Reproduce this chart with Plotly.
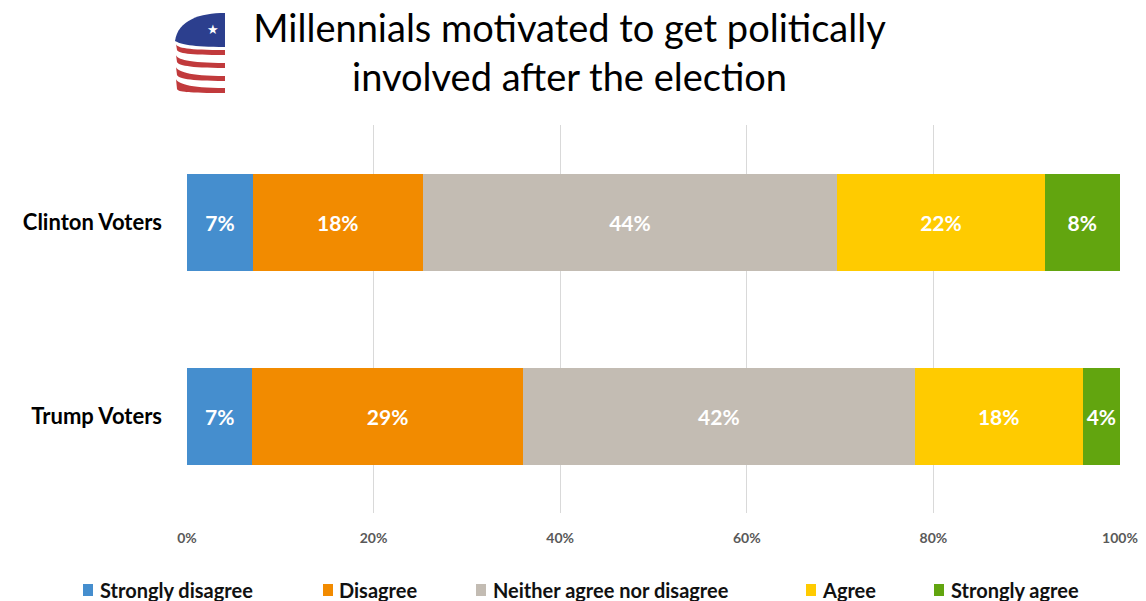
import plotly.graph_objects as go

# Survey responses by voter group (percent of respondents)
groups = ["Clinton Voters", "Trump Voters"]
responses = ["Strongly disagree", "Disagree", "Neither agree nor disagree", "Agree", "Strongly agree"]
strongly_disagree = [7, 7]
disagree = [18, 29]
neither = [44, 42]
agree = [22, 18]
strongly_agree = [8, 4]
tick_values = [0, 20, 40, 60, 80, 100]
tick_labels = ["0%", "20%", "40%", "60%", "80%", "100%"]

series = [strongly_disagree, disagree, neither, agree, strongly_agree]
colors = ["#458ECE", "#F28B00", "#C3BCB3", "#FFCB00", "#62A50F"]

W, H = 1146, 601
ML, MR, MT, MB = 187, 26, 125, 88
PW, PH = W - ML - MR, H - MT - MB


def px(x):
    return (x - ML) / PW


def py(y):
    return (H - MB - y) / PH


fig = go.Figure()
for name, vals, col in zip(responses, series, colors):
    fig.add_trace(go.Bar(
        y=groups, x=vals, name=name, orientation="h",
        marker=dict(color=col, line=dict(width=0)),
        text=[f"{v}%" for v in vals],
        textposition="inside", insidetextanchor="middle",
        textangle=0, constraintext="none",
        textfont=dict(family="Lato", size=21, color="white", weight="bold"),
        showlegend=False,
    ))

# Legend drawn as swatches + labels along the bottom
legend_swatch_x = [83, 323, 476, 806, 934]
legend_text_x = [98, 337, 491, 820, 949]
legend_y = 590
shapes = []
annotations = []
for name, col, sx, tx in zip(responses, colors, legend_swatch_x, legend_text_x):
    shapes.append(dict(type="rect", xref="paper", yref="paper",
                       x0=px(sx), x1=px(sx + 10), y0=py(legend_y + 6), y1=py(legend_y - 6),
                       fillcolor=col, line=dict(width=0)))
    annotations.append(dict(xref="paper", yref="paper", x=px(tx), y=py(legend_y),
                            xanchor="left", yanchor="middle", showarrow=False, text=name,
                            font=dict(family="Lato", size=20, color="#111111", weight="bold")))


# Flag-style logo beside the title
def path(points):
    out = []
    for cmd, *pts in points:
        coords = " ".join(f"{px(a):.5f},{py(b):.5f}" for a, b in pts)
        out.append(f"{cmd}{coords}")
    return " ".join(out) + " Z"


navy, red = "#2C3F8E", "#C13A3C"
shapes.append(dict(type="path", xref="paper", yref="paper", fillcolor=navy, line=dict(width=0),
                   path=path([("M", (225, 13)), ("C", (200, 13), (178, 20), (175, 41)),
                              ("C", (180, 44), (192, 47), (225, 47)), ("L", (225, 13))])))
# stripes: (left top, left bottom, right top, right bottom)
for lt, lb, rt, rb in [(44, 50, 50, 55), (55, 62, 63, 68), (67, 75, 76, 81), (79, 89, 88, 93)]:
    shapes.append(dict(type="path", xref="paper", yref="paper", fillcolor=red, line=dict(width=0),
                       path=path([("M", (176, lt)), ("C", (177, lt + 4), (188, rt), (225, rt)),
                                  ("L", (225, rb)), ("C", (188, rb), (178, lb + 3), (177, lb)),
                                  ("L", (176, lt))])))
annotations.append(dict(xref="paper", yref="paper", x=px(213), y=py(29), showarrow=False,
                        text="★", font=dict(size=13, color="white"),
                        xanchor="center", yanchor="middle"))

fig.update_layout(
    width=W, height=H,
    margin=dict(l=ML, r=MR, t=MT, b=MB),
    barmode="stack", barnorm="percent", bargap=0.5,
    paper_bgcolor="white", plot_bgcolor="white",
    title=dict(text="Millennials motivated to get politically<br>involved after the election",
               x=0.497, xanchor="center", y=0.93, yanchor="top",
               font=dict(family="Lato", size=38, color="#000000")),
    xaxis=dict(range=[0, 100], tickmode="array", tickvals=tick_values, ticktext=tick_labels,
               showgrid=True, gridcolor="#D9D9D9", gridwidth=1, zeroline=False,
               showline=False, ticks="", ticklabelstandoff=15, automargin=False,
               tickfont=dict(family="Lato", size=14, color="#595959", weight="bold")),
    yaxis=dict(categoryorder="array", categoryarray=groups, range=[1.5, -0.5],
               showgrid=False, zeroline=False, showline=False, ticks="",
               ticklabelstandoff=24, automargin=False,
               tickfont=dict(family="Lato", size=22, color="#000000", weight="bold")),
    shapes=shapes, annotations=annotations,
)

fig.write_html("out.html")
